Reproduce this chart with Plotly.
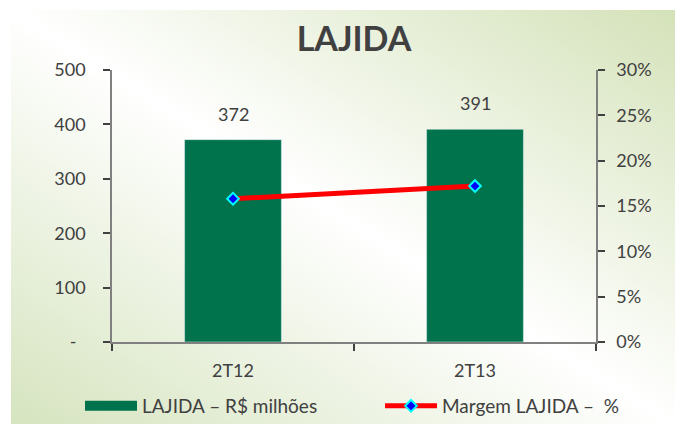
import base64
import plotly.graph_objects as go

# ---- data ----
categories = ["2T12", "2T13"]
lajida = [372, 391]
margem = [0.158, 0.172]
left_tickvals = [0, 100, 200, 300, 400, 500]
left_ticktext = ["-\u00a0\u00a0", "100", "200", "300", "400", "500"]
right_tickvals = [0, 0.05, 0.10, 0.15, 0.20, 0.25, 0.30]
bar_name = "LAJIDA – R$ milhões"
line_name = "Margem LAJIDA –  %"
title_text = "LAJIDA"

# ---- layout constants ----
W, H = 675, 425
ML, MR, MT, MB = 112, 79, 70, 83
PW, PH = W - ML - MR, H - MT - MB
BG_X0, BG_Y0, BG_W, BG_H = 11, 10, 664, 414

GREEN = "#00734d"
TXT = "#404040"
AXC = "#808080"
TICKC = "#404040"
FONT = "Lato, Calibri, sans-serif"

svg = f'''<svg xmlns="http://www.w3.org/2000/svg" width="{BG_W}" height="{BG_H}" viewBox="0 0 {BG_W} {BG_H}" preserveAspectRatio="none">
<defs><linearGradient id="g" x1="0" y1="1" x2="1" y2="0">
<stop offset="0" stop-color="#d6e4bf"/><stop offset="0.5" stop-color="#ffffff"/><stop offset="1" stop-color="#d4e2b9"/>
</linearGradient></defs>
<rect x="0" y="0" width="{BG_W}" height="{BG_H}" fill="url(#g)"/></svg>'''
bg_src = "data:image/svg+xml;base64," + base64.b64encode(svg.encode()).decode()

fig = go.Figure()
fig.add_trace(go.Bar(x=categories, y=lajida, marker_color=GREEN, width=0.4,
                     showlegend=False, name=bar_name, hoverinfo="skip"))
# legend proxy for the bar series (wide rectangle swatch)
fig.add_trace(go.Scatter(x=[categories[0]], y=[None], mode="lines",
                         line=dict(color=GREEN, width=12), name=bar_name,
                         legend="legend"))
fig.add_trace(go.Scatter(x=categories, y=margem, yaxis="y2", mode="lines+markers",
                         line=dict(color="#ff0000", width=5),
                         marker=dict(symbol="diamond", size=9, color="#0000ff",
                                     line=dict(color="#00ffff", width=2)),
                         name=line_name, legend="legend2"))

annotations = [dict(x=c, y=v, xref="x", yref="y", text=str(v), showarrow=False,
                    yshift=26, font=dict(size=18, color=TXT, family=FONT))
               for c, v in zip(categories, lajida)]

axis_common = dict(showgrid=False, zeroline=False, tickcolor=TICKC, tickwidth=1.5,
                   ticklen=7, tickfont=dict(size=18, color=TXT, family=FONT))

legend_common = dict(orientation="h", xref="container", yref="container",
                     xanchor="left", y=1 - 406 / H, yanchor="middle",
                     itemwidth=52, bgcolor="rgba(0,0,0,0)",
                     font=dict(size=19, color=TXT, family=FONT))

fig.update_layout(
    width=W, height=H,
    margin=dict(l=ML, r=MR, t=MT, b=MB, autoexpand=False),
    paper_bgcolor="white", plot_bgcolor="rgba(0,0,0,0)",
    font=dict(family=FONT, color=TXT, size=18),
    title=dict(text="<b>" + title_text + "</b>", x=0.5, xref="paper", xanchor="center",
               y=1 - 39 / H, yref="container", yanchor="middle",
               font=dict(size=34, color=TXT, family=FONT)),
    xaxis=dict(type="category", range=[-0.5, len(categories) - 0.5], showline=True,
               linecolor=AXC, linewidth=1.5, ticks="outside", tickson="boundaries",
               ticklabelstandoff=12, **axis_common),
    xaxis2=dict(overlaying="x", anchor="y", side="bottom",
                range=[-0.5, len(categories) - 0.5],
                tickvals=[i - 0.5 for i in range(len(categories) + 1)],
                ticks="inside", showticklabels=False, showline=False, **axis_common),
    yaxis=dict(range=[0, 500], tickvals=left_tickvals, ticktext=left_ticktext,
               showline=True, linecolor=AXC, linewidth=1.5, ticks="outside",
               ticklabelstandoff=14, **axis_common),
    yaxis3=dict(overlaying="y", anchor="x", side="left", range=[0, 500],
                tickvals=left_tickvals, ticks="inside", showticklabels=False,
                showline=False, **axis_common),
    yaxis2=dict(overlaying="y", anchor="x", side="right", range=[0, 0.30],
                tickvals=right_tickvals, tickformat=".0%", showline=True,
                linecolor=AXC, linewidth=1.5, ticks="outside",
                ticklabelstandoff=8, **axis_common),
    legend=dict(x=80 / W, **legend_common),
    legend2=dict(x=380 / W, **legend_common),
    annotations=annotations,
    images=[dict(source=bg_src, xref="paper", yref="paper",
                 x=(BG_X0 - ML) / PW, y=1 + (MT - BG_Y0) / PH,
                 sizex=BG_W / PW, sizey=BG_H / PH, xanchor="left", yanchor="top",
                 sizing="stretch", layer="below")],
    showlegend=True,
)

fig.write_html("out.html",
               config={"displayModeBar": False},
               post_script="document.body.style.margin='0';"
                           "document.body.style.overflow='hidden';")
